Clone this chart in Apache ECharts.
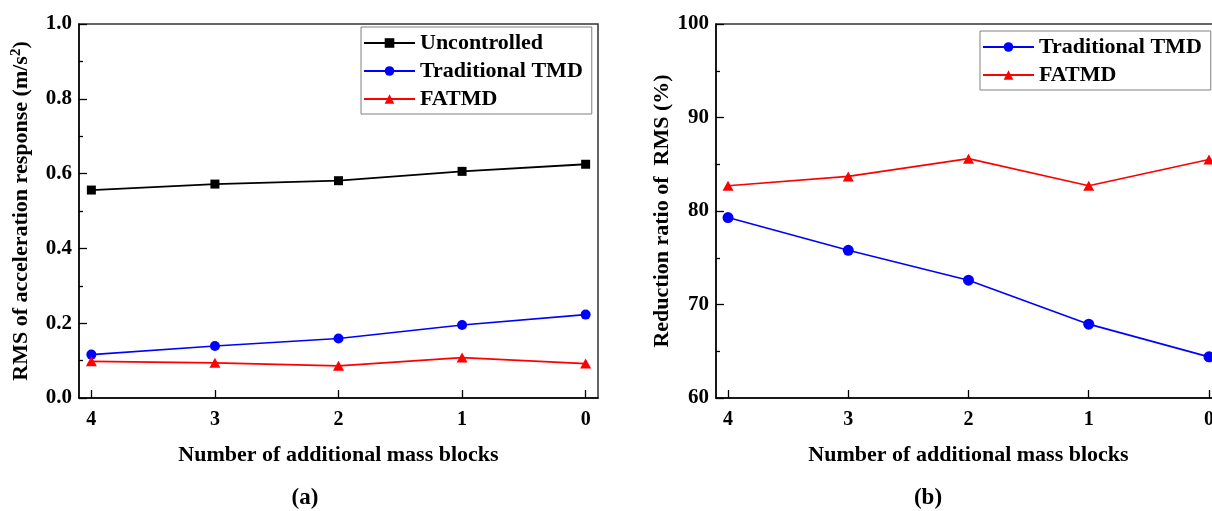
<!DOCTYPE html>
<html>
<head>
<meta charset="utf-8">
<script src="https://cdn.jsdelivr.net/npm/echarts@6/dist/echarts.min.js"></script>
<style>
  html, body { margin: 0; padding: 0; background: #fff; }
  #main { width: 1212px; height: 511px; }
</style>
</head>
<body>
<div id="main"></div>
<script>
// number of additional mass blocks (x positions)
const blocks = [4, 3, 2, 1, 0]
const blockTicks = [0, 1, 2, 3, 4]

// (a) RMS of acceleration response (m/s2)
const rmsUncontrolled = [0.556, 0.572, 0.581, 0.606, 0.625]
const rmsTraditional = [0.116, 0.139, 0.159, 0.195, 0.223]
const rmsFatmd = [0.098, 0.094, 0.086, 0.108, 0.092]

// (b) reduction ratio of RMS (%)
const ratioTraditional = [79.3, 75.8, 72.6, 67.9, 64.4]
const ratioFatmd = [82.7, 83.7, 85.6, 82.7, 85.5]

const FONT = '"Liberation Serif", "Times New Roman", serif'

function pairs (xs, ys) {
  return xs.map((x, i) => [x, ys[i]])
}

const chart = echarts.init(document.getElementById('main'), null, { renderer: 'canvas' })

function xAxisFor (gridIndex) {
  return {
    gridIndex: gridIndex,
    type: 'value',
    inverse: true,
    min: -0.1,
    max: 4.1,
    name: 'Number of additional mass blocks',
    nameLocation: 'middle',
    nameGap: 46,
    nameTextStyle: { fontFamily: FONT, fontWeight: 'bold', fontSize: 22, color: '#000' },
    axisLine: { show: true, onZero: false, lineStyle: { color: '#000', width: 1.5 } },
    axisTick: { show: true, inside: true, length: 8, customValues: blockTicks, lineStyle: { color: '#000', width: 1.3 } },
    axisLabel: {
      customValues: blockTicks,
      margin: 12,
      fontFamily: FONT,
      fontWeight: 'bold',
      fontSize: 20,
      color: '#000',
      formatter: v => (Number.isInteger(v) ? String(v) : '')
    },
    splitLine: { show: false }
  }
}

function yAxisFor (gridIndex, extra) {
  return Object.assign({
    gridIndex: gridIndex,
    type: 'value',
    nameLocation: 'middle',
    nameTextStyle: { fontFamily: FONT, fontWeight: 'bold', fontSize: 22, color: '#000' },
    axisLine: { show: true, onZero: false, lineStyle: { color: '#000', width: 1.5 } },
    axisTick: { show: true, inside: true, length: 8, lineStyle: { color: '#000', width: 1.3 } },
    minorTick: { show: true, splitNumber: 2, length: 4, lineStyle: { color: '#000', width: 1.3 } },
    splitLine: { show: false }
  }, extra)
}

function legendFor (left, top, names) {
  return {
    left: left,
    top: top,
    orient: 'vertical',
    data: names,
    itemWidth: 51,
    itemHeight: 12,
    itemGap: 6,
    padding: [5, 9, 4, 2],
    borderColor: '#808080',
    borderWidth: 1,
    textStyle: { fontFamily: FONT, fontWeight: 'bold', fontSize: 22, color: '#000', lineHeight: 22 },
    selectedMode: false
  }
}

function caption (letter, x) {
  return {
    text: '{p|(}{b|' + letter + '}{p|)}',
    left: x,
    top: 482,
    textAlign: 'center',
    textStyle: {
      rich: {
        p: { fontFamily: FONT, fontSize: 23, color: '#000' },
        b: { fontFamily: FONT, fontSize: 23, fontWeight: 'bold', color: '#000' }
      }
    }
  }
}

const option = {
  animation: false,
  backgroundColor: '#fff',
  title: [caption('a', 300), caption('b', 923)],
  grid: [
    { left: 79, top: 24, width: 519, height: 374, show: true, borderColor: '#333', borderWidth: 1.5, containLabel: false, outerBoundsMode: 'none' },
    { left: 716, top: 24, width: 505, height: 374, show: true, borderColor: '#333', borderWidth: 1.5, containLabel: false, outerBoundsMode: 'none' }
  ],
  legend: [
    legendFor(361, 27, ['Uncontrolled', 'Traditional TMD', 'FATMD']),
    legendFor(980, 31, ['Traditional TMD', 'FATMD'])
  ],
  xAxis: [xAxisFor(0), xAxisFor(1)],
  yAxis: [
    yAxisFor(0, {
      min: 0,
      max: 1,
      interval: 0.2,
      name: '{t|RMS of acceleration response (m/s}{sup|2}{t|)}',
      nameGap: 46,
      nameTextStyle: {
        fontFamily: FONT,
        fontWeight: 'bold',
        fontSize: 22,
        color: '#000',
        rich: {
          t: { fontFamily: FONT, fontWeight: 'bold', fontSize: 22, color: '#000', lineHeight: 24 },
          sup: { fontFamily: FONT, fontWeight: 'bold', fontSize: 15, color: '#000', verticalAlign: 'top', lineHeight: 24 }
        }
      },
      axisLabel: { margin: 7, fontFamily: FONT, fontWeight: 'bold', fontSize: 21, color: '#000', formatter: v => v.toFixed(1) }
    }),
    yAxisFor(1, {
      min: 60,
      max: 100,
      interval: 10,
      name: 'Reduction ratio of  RMS (%)',
      nameGap: 42,
      axisLabel: { margin: 7, fontFamily: FONT, fontWeight: 'bold', fontSize: 21, color: '#000' }
    })
  ],
  series: [
    {
      name: 'Uncontrolled',
      type: 'line',
      xAxisIndex: 0,
      yAxisIndex: 0,
      data: pairs(blocks, rmsUncontrolled),
      symbol: 'rect',
      symbolSize: 9,
      color: '#000',
      lineStyle: { color: '#000', width: 1.8 },
      itemStyle: { color: '#000' }
    },
    {
      name: 'Traditional TMD',
      type: 'line',
      xAxisIndex: 0,
      yAxisIndex: 0,
      data: pairs(blocks, rmsTraditional),
      symbol: 'circle',
      symbolSize: 10,
      color: '#0000ff',
      lineStyle: { color: '#0000ff', width: 1.6 },
      itemStyle: { color: '#0000ff' }
    },
    {
      name: 'FATMD',
      type: 'line',
      xAxisIndex: 0,
      yAxisIndex: 0,
      data: pairs(blocks, rmsFatmd),
      symbol: 'triangle',
      symbolSize: [11, 10],
      color: '#ff0000',
      lineStyle: { color: '#ff0000', width: 1.6 },
      itemStyle: { color: '#ff0000' }
    },
    {
      name: 'Traditional TMD',
      type: 'line',
      xAxisIndex: 1,
      yAxisIndex: 1,
      data: pairs(blocks, ratioTraditional),
      symbol: 'circle',
      symbolSize: 11,
      color: '#0000ff',
      lineStyle: { color: '#0000ff', width: 1.6 },
      itemStyle: { color: '#0000ff' }
    },
    {
      name: 'FATMD',
      type: 'line',
      xAxisIndex: 1,
      yAxisIndex: 1,
      data: pairs(blocks, ratioFatmd),
      symbol: 'triangle',
      symbolSize: [11, 10],
      color: '#ff0000',
      lineStyle: { color: '#ff0000', width: 1.6 },
      itemStyle: { color: '#ff0000' }
    }
  ]
}

chart.setOption(option)
</script>
</body>
</html>
